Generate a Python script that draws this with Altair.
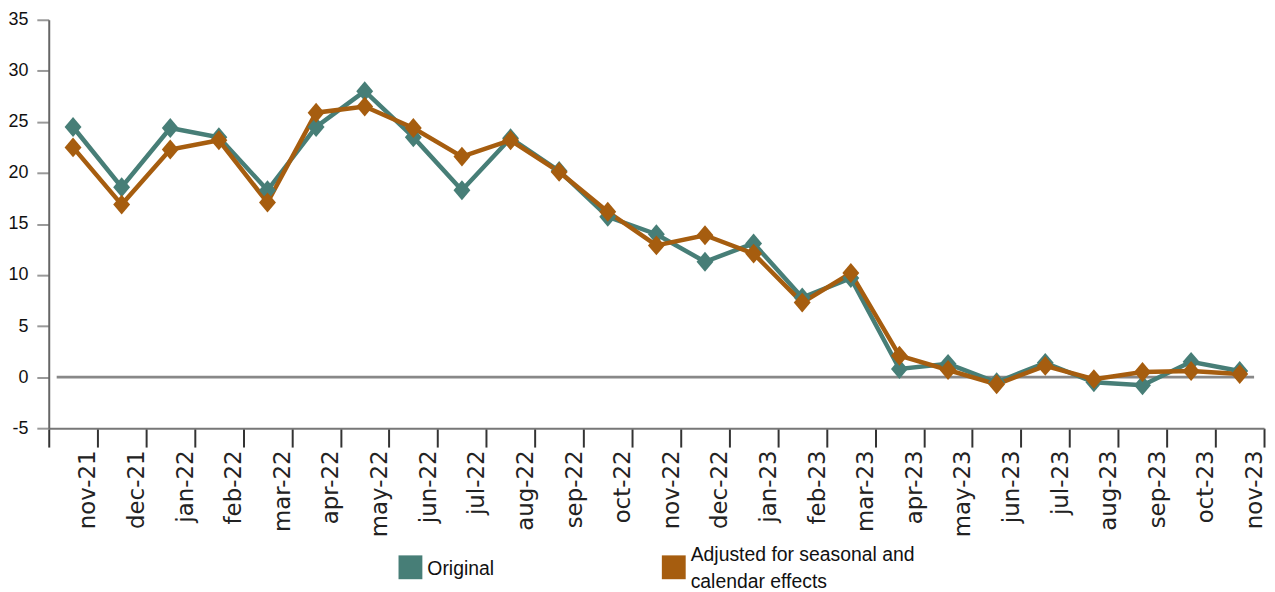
import altair as alt
import pandas as pd

months = ["nov-21", "dec-21", "jan-22", "feb-22", "mar-22", "apr-22", "may-22",
          "jun-22", "jul-22", "aug-22", "sep-22", "oct-22", "nov-22", "dec-22",
          "jan-23", "feb-23", "mar-23", "apr-23", "may-23", "jun-23", "jul-23",
          "aug-23", "sep-23", "oct-23", "nov-23"]

original = [24.5, 18.6, 24.4, 23.5, 18.3, 24.5, 28.0, 23.5, 18.3, 23.4, 20.2,
            15.7, 14.0, 11.3, 13.1, 7.8, 9.7, 0.8, 1.3, -0.5, 1.4, -0.5, -0.8,
            1.5, 0.6]

adjusted = [22.5, 16.9, 22.3, 23.2, 17.1, 25.9, 26.5, 24.4, 21.6, 23.2, 20.1,
            16.2, 12.9, 13.9, 12.1, 7.3, 10.2, 2.1, 0.7, -0.7, 1.1, -0.2, 0.5,
            0.6, 0.3]

series_names = ["Original", "Adjusted for seasonal and calendar effects"]
legend_labels = ["Original", "Adjusted for seasonal and\ncalendar effects"]
series_colors = ["#477e77", "#a65d0f"]

rows = []
for name, vals in zip(series_names, [original, adjusted]):
    for m, v in zip(months, vals):
        rows.append({"month": m, "value": v, "series": name})
df = pd.DataFrame(rows)

legend_df = pd.DataFrame({"series": series_names, "label": legend_labels})
zero_df = pd.DataFrame({"y": [0]})

x_enc = alt.X(
    "month:N",
    sort=months,
    scale=alt.Scale(type="band", paddingInner=0, paddingOuter=0),
    axis=alt.Axis(
        title=None,
        labelAngle=270,
        labelAlign="right",
        labelBaseline="middle",
        labelFont="DejaVu Sans",
        labelFontSize=23,
        labelColor="#222222",
        labelOffset=15,
        labelPadding=3,
        tickBand="extent",
        tickSize=19,
        tickWidth=2,
        tickColor="#333333",
        domainColor="#777777",
        domainWidth=2,
        grid=False,
    ),
)

y_scale = alt.Scale(domain=[-5, 35], nice=False, zero=False)
y_enc = alt.Y(
    "value:Q",
    scale=y_scale,
    axis=alt.Axis(
        title=None,
        values=[-5, 0, 5, 10, 15, 20, 25, 30, 35],
        labelExpr="toString(datum.value)",
        labelFont="Liberation Sans",
        labelFontSize=18,
        labelColor="#111111",
        labelPadding=9,
        tickSize=12,
        tickWidth=2,
        tickColor="#999999",
        domainColor="#666666",
        domainWidth=2,
        grid=False,
    ),
)

color_scale = alt.Scale(domain=series_names, range=series_colors)
color_enc = alt.Color("series:N", scale=color_scale, sort=series_names, legend=None)

zero_rule = alt.Chart(zero_df).mark_rule(color="#888888", strokeWidth=3).encode(
    y=alt.Y("y:Q", scale=y_scale),
    x=alt.value(8),
    x2=alt.value(1213),
)

lines = alt.Chart(df).mark_line(strokeWidth=4.5).encode(
    x=x_enc,
    y=y_enc,
    color=color_enc,
)

diamond = "M0,-1L0.85,0L0,1L-0.85,0Z"
points = alt.Chart(df).mark_point(
    filled=True, shape=diamond, size=400, opacity=1
).encode(
    x=x_enc,
    y=y_enc,
    color=color_enc,
)

# legend (drawn below the plot)
leg_base = alt.Chart(legend_df)
leg_sym_1 = leg_base.transform_filter(alt.datum.series == series_names[0]).mark_square(
    size=576, opacity=1
).encode(x=alt.value(364), y=alt.value(551), color=color_enc)
leg_txt_1 = leg_base.transform_filter(alt.datum.series == series_names[0]).mark_text(
    align="left", baseline="middle", font="Liberation Sans", fontSize=19.5, color="#111111"
).encode(x=alt.value(381), y=alt.value(553), text="label:N")
leg_sym_2 = leg_base.transform_filter(alt.datum.series == series_names[1]).mark_square(
    size=576, opacity=1
).encode(x=alt.value(629), y=alt.value(551), color=color_enc)
leg_txt_2 = leg_base.transform_filter(alt.datum.series == series_names[1]).mark_text(
    align="left", baseline="top", font="Liberation Sans", fontSize=19.5, color="#111111",
    lineBreak="\n", lineHeight=27,
).encode(x=alt.value(646), y=alt.value(530), text="label:N")

chart = alt.layer(
    zero_rule, lines, points, leg_sym_1, leg_txt_1, leg_sym_2, leg_txt_2
).properties(
    width=1223,
    height=411,
    autosize=alt.AutoSizeParams(type="none"),
    padding={"left": 41, "top": 10, "right": 3, "bottom": 162},
).configure_view(stroke=None)

chart.save("out.html", embed_options={"renderer": "svg", "actions": False})
